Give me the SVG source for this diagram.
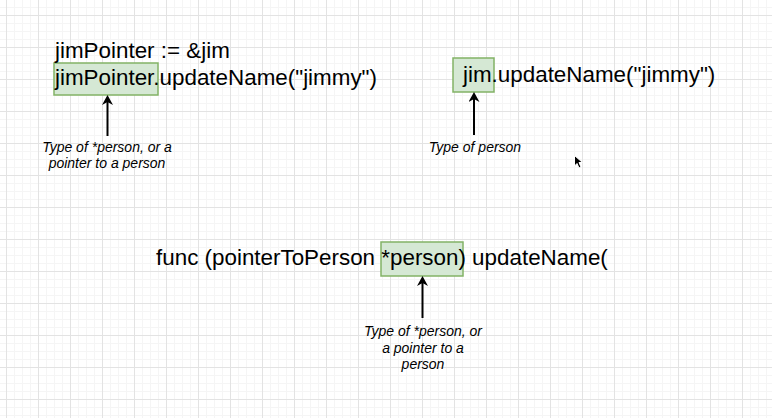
<svg xmlns="http://www.w3.org/2000/svg" width="772" height="418" viewBox="0 0 772 418">
<defs>
<pattern id="minor" patternUnits="userSpaceOnUse" x="6" y="15" width="8" height="8">
<path d="M0.5,0 V8 M0,0.5 H8" stroke="#f5f5f5" stroke-width="1" fill="none"/>
</pattern>
<pattern id="major" patternUnits="userSpaceOnUse" x="6" y="15" width="32" height="32">
<path d="M0.5,0 V32 M0,0.5 H32" stroke="#e3e3e3" stroke-width="1" fill="none"/>
</pattern>
<marker id="arr" viewBox="0 0 10 11" refX="3" refY="5.5" markerWidth="10" markerHeight="11" markerUnits="userSpaceOnUse" orient="auto">
<path d="M0,0 L10,5.5 L0,11 L3,5.5 Z" fill="#000"/>
</marker>
<style>
.code{font-family:"Liberation Sans",Arial,Helvetica,sans-serif;font-size:22.4px;fill:#000}
.lbl{font-family:"Liberation Sans",Arial,Helvetica,sans-serif;font-size:14px;font-style:italic;fill:#000;text-anchor:middle}
.hl{fill:#d5e8d4;stroke:#82b366;stroke-width:1.5}
.conn{stroke:#000;stroke-width:2;fill:none;marker-end:url(#arr)}
</style>
</defs>
<rect width="772" height="418" fill="#fff"/>
<rect width="772" height="418" fill="url(#minor)"/>
<rect width="772" height="418" fill="url(#major)"/>

<g id="node-jimpointer">
<rect class="hl" x="54" y="63" width="104" height="32"/>
<text class="code" x="55" y="58">jimPointer := &amp;jim</text>
<text class="code" x="55" y="85">jimPointer.updateName("jimmy")</text>
</g>

<g id="node-jim">
<rect class="hl" x="453" y="58" width="41" height="34"/>
<text class="code" x="463" y="82">jim.updateName("jimmy")</text>
</g>

<g id="node-func">
<rect class="hl" x="381" y="242" width="82" height="34"/>
<text class="code" x="156" y="265">func (pointerToPerson *person) updateName(</text>
</g>

<g id="label-1">
<text class="lbl" x="107" y="152">Type of *person, or a</text>
<text class="lbl" x="107" y="168">pointer to a person</text>
</g>

<g id="label-2">
<text class="lbl" x="475" y="152">Type of person</text>
</g>

<g id="label-3">
<text class="lbl" x="423" y="336">Type of *person, or</text>
<text class="lbl" x="423" y="352.5">a pointer to a</text>
<text class="lbl" x="423" y="369">person</text>
</g>

<g id="connectors">
<path class="conn" d="M107.5,136 V102"/>
<path class="conn" d="M474,135 V99"/>
<path class="conn" d="M422.5,318 V283"/>
</g>

<path d="M574.5,155.5 L574.5,166 L577,163.5 L579,168 L581,167 L579,162.5 L582.5,162.5 Z" fill="#000" stroke="#fff" stroke-width="1"/>
</svg>
